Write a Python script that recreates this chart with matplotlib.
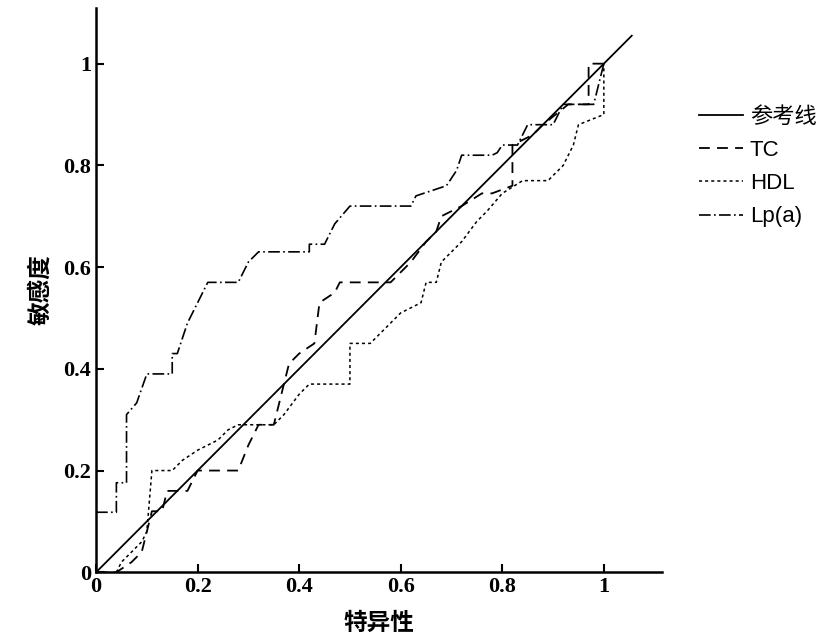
import matplotlib
matplotlib.use("Agg")
import matplotlib.pyplot as plt

ref_x = [0, 1.055]
ref_y = [0, 1.055]
tc_x = [0,0.04,0.07,0.09,0.10,0.11,0.13,0.14,0.18,0.20,0.28,0.30,0.32,0.35,0.36,0.37,0.38,0.40,0.43,0.44,0.47,0.48,0.58,0.60,0.62,0.65,0.67,0.68,0.72,0.76,0.78,0.82,0.82,0.86,0.88,0.93,0.97,0.97,1.0]
tc_y = [0,0,0.02,0.04,0.08,0.12,0.12,0.16,0.16,0.20,0.20,0.25,0.29,0.29,0.33,0.37,0.41,0.43,0.45,0.53,0.55,0.57,0.57,0.59,0.61,0.65,0.67,0.70,0.72,0.745,0.745,0.76,0.84,0.86,0.88,0.92,0.92,1.0,1.0]
hdl_x = [0.04,0.05,0.07,0.09,0.10,0.11,0.15,0.17,0.20,0.24,0.26,0.28,0.35,0.37,0.40,0.42,0.50,0.50,0.54,0.58,0.60,0.64,0.65,0.67,0.68,0.72,0.75,0.77,0.80,0.84,0.89,0.92,0.94,0.95,1.0,1.0]
hdl_y = [0,0.02,0.04,0.06,0.08,0.20,0.20,0.22,0.24,0.26,0.28,0.29,0.29,0.31,0.35,0.37,0.37,0.45,0.45,0.49,0.51,0.53,0.57,0.57,0.61,0.65,0.69,0.71,0.745,0.77,0.77,0.80,0.84,0.88,0.90,1.0]
lp_x = [0,0.04,0.04,0.06,0.06,0.08,0.10,0.15,0.15,0.16,0.18,0.21,0.22,0.28,0.29,0.30,0.32,0.42,0.42,0.45,0.47,0.50,0.62,0.63,0.69,0.71,0.72,0.78,0.79,0.80,0.83,0.85,0.90,0.92,0.98,1.0]
lp_y = [0.118,0.118,0.176,0.176,0.31,0.333,0.39,0.39,0.43,0.43,0.49,0.55,0.57,0.57,0.59,0.61,0.63,0.63,0.645,0.645,0.685,0.72,0.72,0.74,0.76,0.79,0.82,0.82,0.825,0.84,0.84,0.88,0.88,0.92,0.92,1.0]
labels = ["参考线", "TC", "HDL", "Lp(a)"]
xticks = [0, 0.2, 0.4, 0.6, 0.8, 1]
yticks = [0, 0.2, 0.4, 0.6, 0.8, 1]

fig = plt.figure(figsize=(8.21, 6.43), dpi=100)
ax = fig.add_axes([0.117, 0.110, 0.689, 0.878])
ax.plot(ref_x, ref_y, color="black", lw=1.3, label=labels[0])
ax.plot(tc_x, tc_y, color="black", lw=1.3, ls=(0, (6, 4)), label=labels[1])
ax.plot(hdl_x, hdl_y, color="black", lw=1.1, ls=(0, (2, 2)), label=labels[2])
ax.plot(lp_x, lp_y, color="black", lw=1.2, ls=(0, (7, 2, 1, 2)), label=labels[3])
ax.set_xlim(0, 1.114)
ax.set_ylim(0, 1.11)
ax.set_xticks(xticks)
ax.set_yticks(yticks)
ax.set_xticklabels([f"{t:g}" for t in xticks], family="Liberation Serif", weight="bold", fontsize=16)
ax.set_yticklabels([f"{t:g}" for t in yticks], family="Liberation Serif", weight="bold", fontsize=16)
ax.tick_params(direction="in", length=6, width=1.5)
for s in ["top", "right"]:
    ax.spines[s].set_visible(False)
for s in ["left", "bottom"]:
    ax.spines[s].set_linewidth(1.8)
ax.set_xlabel("特异性", family="Noto Sans CJK SC", weight="bold", fontsize=17, labelpad=10)
ax.set_ylabel("敏感度", family="Noto Sans CJK SC", weight="bold", fontsize=17, labelpad=8)
leg = ax.legend(loc="upper left", bbox_to_anchor=(1.03, 0.86), frameon=False,
                prop={"family": ["Liberation Sans", "Noto Sans CJK SC"], "size": 16},
                handlelength=2.0, handletextpad=0.3, labelspacing=0.55)
fig.savefig("out.png", dpi=100)
